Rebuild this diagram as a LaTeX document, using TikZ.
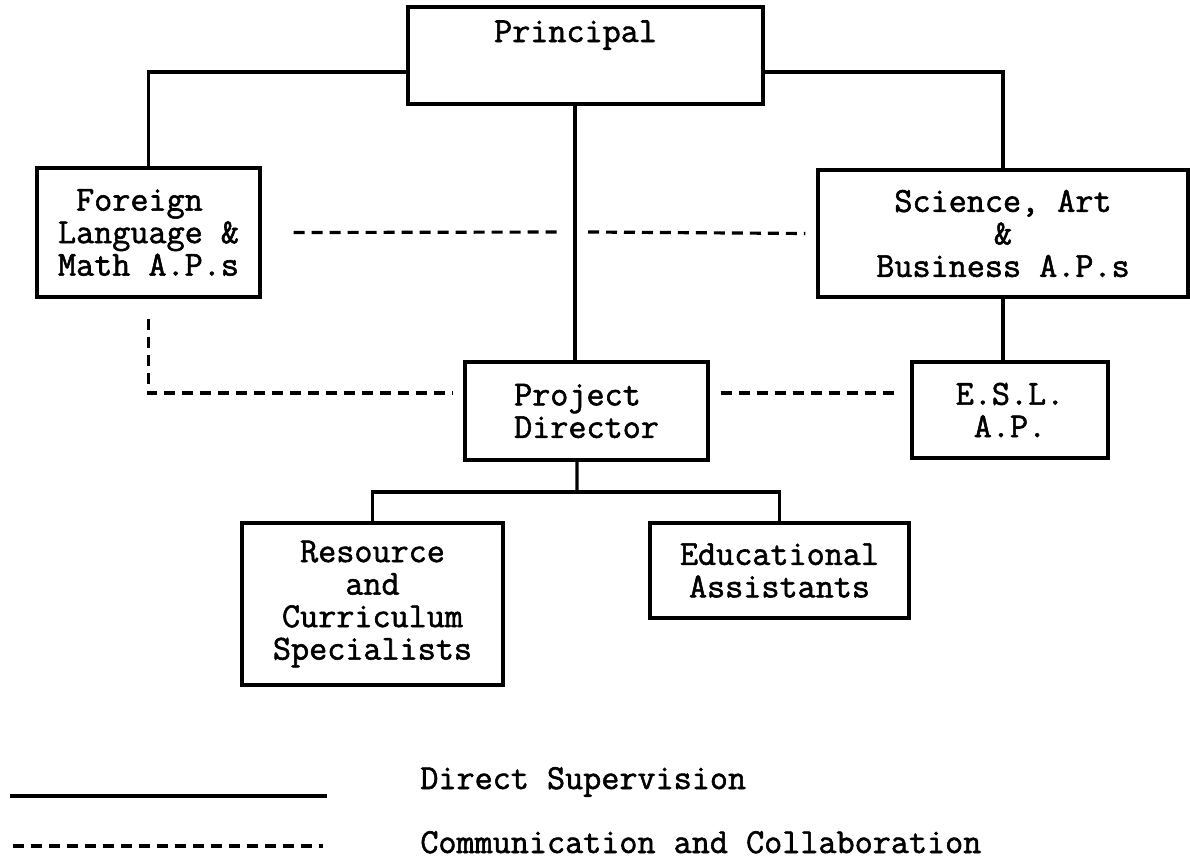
\documentclass[tikz,border=0pt]{standalone}
\usepackage{fontspec}
\setmonofont{Latin Modern Mono}[FakeBold=1.6]
\usetikzlibrary{positioning,calc}

\begin{document}
\begin{tikzpicture}[x=0.02cm, y=-0.02cm,
boxnode/.style={rectangle, draw=black, line width=1.8pt, align=center, inner sep=0pt, font=\ttfamily\fontsize{20}{18.5}\selectfont},
supline/.style={draw=black, line width=1.8pt},
comline/.style={draw=black, line width=1.8pt, dash pattern=on 0.22cm off 0.14cm},
legtext/.style={anchor=base west, inner sep=0pt, font=\ttfamily\fontsize{20}{18.5}\selectfont},
]
\useasboundingbox (0,0) rectangle (1190,859);

%Nodes
\node[boxnode, minimum width=7.1cm, text height=0.7cm, text depth=1.24cm] (principal) at (585.5,55.5) {Principal\hspace*{0.4cm}};
\node[boxnode, minimum width=4.46cm, minimum height=2.58cm, align=left] (forlang) at (148.5,232.5) {\phantom{F}Foreign\\Language \&\\Math A.P.s};
\node[boxnode, minimum width=7.4cm, minimum height=2.54cm] (science) at (1003,233.5) {Science, Art\\\&\\Business A.P.s};
\node[boxnode, minimum width=4.86cm, minimum height=1.96cm, align=left] (director) at (586.5,411) {Project\\Director};
\node[boxnode, minimum width=3.92cm, minimum height=1.92cm] (esl) at (1010,410) {E.S.L.\\A.P.};
\node[boxnode, minimum width=5.22cm, minimum height=3.24cm] (resource) at (372.5,604) {Resource\\and\\Curriculum\\Specialists};
\node[boxnode, minimum width=5.18cm, minimum height=1.9cm] (eduassist) at (779.5,570.5) {Educational\\Assistants};

\coordinate (gapleft) at (563,232);
\coordinate (gapright) at (588,232);
\coordinate (split) at (577,492);

%Lines
\draw[supline] ([yshift=-0.33cm]principal.west) -| (forlang.north);
\draw[supline] ([yshift=-0.33cm]principal.east) -| (science.north);
\draw[supline] ([xshift=-0.21cm]principal.south) -- ([xshift=-0.21cm]principal.south |- director.north);
\draw[supline] (science.south) -- (science.south |- esl.north);
\draw[supline] ([xshift=-0.19cm]director.south) -- (split);
\draw[supline] (resource.north) |- (split) -| (eduassist.north);

\draw[comline] ([xshift=0.64cm]forlang.east) -- (gapleft);
\draw[comline] (gapright) -- ([xshift=-0.22cm]science.west);
\draw[comline] ([yshift=-0.4cm]forlang.south) |- ([xshift=-0.2cm,yshift=0.36cm]director.west);
\draw[comline] ([xshift=0.22cm,yshift=0.36cm]director.east) -- ([xshift=-0.24cm,yshift=0.34cm]esl.west);

%Legend
\coordinate (legsupA) at (10,796);
\coordinate (legsupB) at (327,796);
\coordinate (legcomA) at (13,846);
\coordinate (legcomB) at (323,846);
\draw[supline] (legsupA) -- (legsupB);
\draw[comline] (legcomA) -- (legcomB);
\node[legtext] (legsup) at (420,789) {Direct Supervision};
\node[legtext] (legcom) at (420,853) {Communication and Collaboration};
\end{tikzpicture}
\end{document}
